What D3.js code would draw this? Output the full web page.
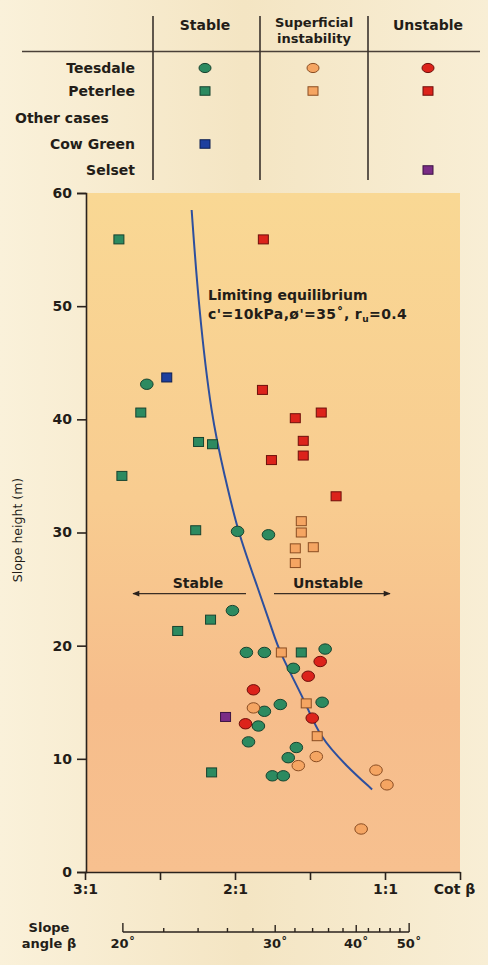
<!DOCTYPE html>
<html>
<head>
<meta charset="utf-8">
<script src="https://cdn.jsdelivr.net/npm/d3@7"></script>
<style>
  html, body { margin: 0; padding: 0; background: #f6eacd; }
  svg { display: block; font-family: "DejaVu Sans", "Liberation Sans", Arial, sans-serif; }
</style>
</head>
<body>
<svg id="chart" width="488" height="965"></svg>
<script>
// Observed slopes: [cot β, slope height (m)]
const teesdaleStable = [
  [2.588, 43.1], [1.983, 30.1], [1.777, 29.8], [2.017, 23.1], [1.924, 19.4],
  [1.804, 19.4], [1.399, 19.7], [1.611, 18.0], [1.698, 14.8], [1.419, 15.0],
  [1.804, 14.2], [1.844, 12.9], [1.910, 11.5], [1.591, 11.0], [1.645, 10.1],
  [1.751, 8.5], [1.678, 8.5]
];
const teesdaleSuperficial = [
  [1.877, 14.5], [1.458, 10.2], [1.578, 9.4], [1.060, 9.0], [0.987, 7.7], [1.159, 3.8]
];
const teesdaleUnstable = [
  [1.432, 18.6], [1.512, 17.3], [1.877, 16.1], [1.485, 13.6], [1.930, 13.1]
];
const peterleeStable = [
  [2.774, 55.9], [2.628, 40.6], [2.754, 35.0], [2.243, 38.0], [2.150, 37.8],
  [2.262, 30.2], [2.382, 21.3], [2.163, 22.3], [2.156, 8.8], [1.558, 19.4]
];
const peterleeSuperficial = [
  [1.691, 19.4], [1.525, 14.9], [1.452, 12.0], [1.558, 31.0], [1.558, 30.0],
  [1.598, 28.6], [1.478, 28.7], [1.598, 27.3]
];
const peterleeUnstable = [
  [1.811, 55.9], [1.817, 42.6], [1.598, 40.1], [1.425, 40.6], [1.545, 38.1],
  [1.545, 36.8], [1.757, 36.4], [1.326, 33.2]
];
const cowGreenStable = [[2.455, 43.7]];
const selsetUnstable = [[2.063, 13.7]];

// Limiting equilibrium line, c'=10kPa, ø'=35°, ru=0.4
const limitingCurve = [
  [2.289, 58.5], [2.243, 50.0], [2.156, 40.0], [2.068, 35.0], [1.983, 30.1],
  [1.845, 25.0], [1.751, 21.4], [1.704, 19.4], [1.525, 14.9], [1.440, 12.0],
  [1.253, 9.3], [1.086, 7.3]
];

const heightTicks = [0, 10, 20, 30, 40, 50, 60];
const cotTicks = [3, 2.5, 2, 1.5, 1, 0.5];
const cotTickLabels = ["3:1", "", "2:1", "", "1:1", "Cot β"];
const angleTicks = d3.range(20, 51, 2);
const angleLabels = [20, 30, 40, 50];

const statusColumns = ["Stable", "Superficial instability", "Unstable"];
const siteRows = ["Teesdale", "Peterlee", "Other cases", "Cow Green", "Selset"];

const colors = {
  stable: "#2c8a60", stableEdge: "#17432f",
  superficial: "#f5a562", superficialEdge: "#8a4d22",
  unstable: "#dc231b", unstableEdge: "#6e0f0b",
  cowGreen: "#1d3f9e", cowGreenEdge: "#0e1f50",
  selset: "#7a2c86", selsetEdge: "#3c1343",
  curve: "#2d4f9e", ink: "#231d18"
};
const FONT = "'DejaVu Sans', 'Liberation Sans', Arial, sans-serif";

const svg = d3.select("#chart");

// Paper background
const defs = svg.append("defs");
const plotGrad = defs.append("linearGradient")
  .attr("id", "plotFill").attr("x1", 0).attr("y1", 0).attr("x2", 0).attr("y2", 1);
plotGrad.append("stop").attr("offset", "0%").attr("stop-color", "#f9d894");
plotGrad.append("stop").attr("offset", "45%").attr("stop-color", "#f8cc90");
plotGrad.append("stop").attr("offset", "75%").attr("stop-color", "#f6bd8b");
plotGrad.append("stop").attr("offset", "100%").attr("stop-color", "#f7c08f");

const paperGrad = defs.append("linearGradient")
  .attr("id", "paperFill").attr("x1", 0).attr("y1", 0).attr("x2", 1).attr("y2", 0);
paperGrad.append("stop").attr("offset", "0%").attr("stop-color", "#faf1da");
paperGrad.append("stop").attr("offset", "50%").attr("stop-color", "#f4e5c3");
paperGrad.append("stop").attr("offset", "100%").attr("stop-color", "#f8eed5");

svg.append("rect").attr("width", 488).attr("height", 965).attr("fill", "url(#paperFill)");

// Scales
const x = d3.scaleLinear().domain([3, 0.5]).range([85, 460]);
const y = d3.scaleLinear().domain([0, 60]).range([872, 193]);
const angleX = a => x(1 / Math.tan(a * Math.PI / 180));

// Plot area
svg.append("rect")
  .attr("x", x(3) + 1).attr("y", y(60))
  .attr("width", x(0.5) - x(3) - 1).attr("height", y(0) - y(60))
  .attr("fill", "url(#plotFill)");

// ---- Legend table ----
const legend = svg.append("g").attr("fill", colors.ink).attr("font-weight", "bold").attr("font-size", 14);
const colX = [205, 313, 428];
const rowY = [68, 91, 118, 144, 170];

legend.append("text").attr("x", colX[0]).attr("y", 30).attr("text-anchor", "middle").text(statusColumns[0]);
legend.append("text").attr("x", colX[1] + 1).attr("y", 27).attr("font-size", 13)
  .attr("text-anchor", "middle").text("Superficial");
legend.append("text").attr("x", colX[1] + 1).attr("y", 42.5).attr("font-size", 13)
  .attr("text-anchor", "middle").text("instability");
legend.append("text").attr("x", colX[2]).attr("y", 30).attr("text-anchor", "middle").text(statusColumns[2]);

legend.append("line").attr("x1", 22).attr("x2", 480).attr("y1", 51.5).attr("y2", 51.5)
  .attr("stroke", "#4a4038").attr("stroke-width", 1.5);
[153, 260, 368].forEach(vx => {
  legend.append("line").attr("x1", vx).attr("x2", vx).attr("y1", 16).attr("y2", 180)
    .attr("stroke", "#3a322c").attr("stroke-width", 1.6);
});

siteRows.forEach((name, i) => {
  const t = legend.append("text").attr("y", rowY[i] + 5).text(name);
  if (name === "Other cases") t.attr("x", 15);
  else t.attr("x", 135).attr("text-anchor", "end");
});

function drawCircle(g, cx, cy, fill, edge, rx, ry) {
  g.append("ellipse").attr("cx", cx).attr("cy", cy).attr("rx", rx).attr("ry", ry)
    .attr("fill", fill).attr("stroke", edge).attr("stroke-width", 1);
}
function drawSquare(g, cx, cy, fill, edge, w, h) {
  g.append("rect").attr("x", cx - w / 2).attr("y", cy - h / 2).attr("width", w).attr("height", h)
    .attr("fill", fill).attr("stroke", edge).attr("stroke-width", 1);
}

const lg = svg.append("g");
drawCircle(lg, colX[0], rowY[0], colors.stable, colors.stableEdge, 6, 4.6);
drawCircle(lg, colX[1], rowY[0], colors.superficial, colors.superficialEdge, 6, 4.6);
drawCircle(lg, colX[2], rowY[0], colors.unstable, colors.unstableEdge, 6, 4.6);
drawSquare(lg, colX[0], rowY[1], colors.stable, colors.stableEdge, 10, 8.5);
drawSquare(lg, colX[1], rowY[1], colors.superficial, colors.superficialEdge, 10, 8.5);
drawSquare(lg, colX[2], rowY[1], colors.unstable, colors.unstableEdge, 10, 8.5);
drawSquare(lg, colX[0], rowY[3], colors.cowGreen, colors.cowGreenEdge, 10, 8.5);
drawSquare(lg, colX[2], rowY[4], colors.selset, colors.selsetEdge, 10, 8.5);

// ---- Axes ----
const yAxis = d3.axisLeft(y).tickValues(heightTicks).tickSize(9).tickPadding(5);
const gy = svg.append("g").attr("transform", `translate(${x(3) + 1},0)`).call(yAxis);
gy.select(".domain").attr("stroke", "#2a221c").attr("stroke-width", 1.6);
gy.selectAll(".tick line").attr("stroke", "#2a221c").attr("stroke-width", 1.6);
gy.selectAll(".tick text").attr("font-size", 14).attr("font-weight", "bold")
  .attr("fill", colors.ink).attr("font-family", FONT);

const xAxis = d3.axisBottom(x).tickValues(cotTicks).tickSize(8).tickPadding(4)
  .tickFormat((d, i) => cotTickLabels[i]).tickSizeOuter(0);
const gx = svg.append("g").attr("transform", `translate(0,${y(0)})`).call(xAxis);
gx.select(".domain").attr("stroke", "#2a221c").attr("stroke-width", 1.6);
gx.selectAll(".tick line").attr("stroke", "#2a221c").attr("stroke-width", 1.6);
gx.selectAll(".tick text").attr("font-size", 14).attr("font-weight", "bold")
  .attr("fill", colors.ink).attr("font-family", FONT);
gx.selectAll(".tick text").filter((d, i) => i === 5).attr("dx", -6);

svg.append("text")
  .attr("transform", `translate(22,530) rotate(-90)`)
  .attr("text-anchor", "middle").attr("font-size", 12.5).attr("fill", colors.ink)
  .text("Slope height (m)");

// Slope angle scale
const ga = svg.append("g").attr("stroke", "#2a221c").attr("stroke-width", 1.4);
const angleY = 932;
ga.append("line").attr("x1", angleX(20)).attr("x2", angleX(50)).attr("y1", angleY).attr("y2", angleY);
ga.selectAll("line.t").data(angleTicks).join("line").attr("class", "t")
  .attr("x1", d => angleX(d)).attr("x2", d => angleX(d))
  .attr("y1", angleY)
  .attr("y2", d => angleY - (d === 20 || d === 50 ? 9 : (d % 10 === 0 ? 7 : 4)));
svg.append("g").selectAll("text").data(angleLabels).join("text")
  .attr("x", d => angleX(d)).attr("y", 948).attr("text-anchor", "middle")
  .attr("font-size", 13).attr("font-weight", "bold").attr("fill", colors.ink)
  .text(d => d + "˚");
svg.append("text").attr("x", 49).attr("y", 932).attr("text-anchor", "middle")
  .attr("font-size", 13).attr("font-weight", "bold").attr("fill", colors.ink).text("Slope");
svg.append("text").attr("x", 49).attr("y", 948).attr("text-anchor", "middle")
  .attr("font-size", 13).attr("font-weight", "bold").attr("fill", colors.ink).text("angle β");

// ---- Limiting equilibrium curve ----
const line = d3.line().x(d => x(d[0])).y(d => y(d[1])).curve(d3.curveBasis);
svg.append("path").datum(limitingCurve).attr("d", line)
  .attr("fill", "none").attr("stroke", colors.curve).attr("stroke-width", 2);

const note = svg.append("g").attr("font-size", 14).attr("font-weight", "bold").attr("fill", colors.ink);
note.append("text").attr("x", 208).attr("y", 300).text("Limiting equilibrium");
const n2 = note.append("text").attr("x", 208).attr("y", 319).attr("font-size", 14).attr("letter-spacing", 0.4);
n2.append("tspan").text("c'=10kPa,ø'=35˚, r");
n2.append("tspan").attr("font-size", 9).attr("dy", 3).text("u");
n2.append("tspan").attr("dy", -3).text("=0.4");

// Stable / Unstable arrows
defs.append("marker").attr("id", "arrowHead").attr("viewBox", "0 0 10 10")
  .attr("refX", 9).attr("refY", 5).attr("markerWidth", 9).attr("markerHeight", 7)
  .attr("markerUnits", "userSpaceOnUse").attr("orient", "auto")
  .append("path").attr("d", "M0,1 L10,5 L0,9 Z").attr("fill", "#2a221c");

const arrowY = y(24.6);
svg.append("line").attr("x1", 246).attr("x2", 133).attr("y1", arrowY).attr("y2", arrowY)
  .attr("stroke", "#3a2e24").attr("stroke-width", 1.4).attr("marker-end", "url(#arrowHead)");
svg.append("line").attr("x1", 274).attr("x2", 390).attr("y1", arrowY).attr("y2", arrowY)
  .attr("stroke", "#3a2e24").attr("stroke-width", 1.4).attr("marker-end", "url(#arrowHead)");
svg.append("text").attr("x", 198).attr("y", arrowY - 6).attr("text-anchor", "middle")
  .attr("font-size", 14).attr("fill", colors.ink).attr("font-weight", "bold").text("Stable");
svg.append("text").attr("x", 328).attr("y", arrowY - 6).attr("text-anchor", "middle")
  .attr("font-size", 14).attr("fill", colors.ink).attr("font-weight", "bold").text("Unstable");

// ---- Observations ----
const pts = svg.append("g");
function circles(data, fill, edge) {
  pts.selectAll(null).data(data).join("ellipse")
    .attr("cx", d => x(d[0])).attr("cy", d => y(d[1]))
    .attr("rx", 6.3).attr("ry", 5.2)
    .attr("fill", fill).attr("stroke", edge).attr("stroke-width", 1);
}
function squares(data, fill, edge) {
  pts.selectAll(null).data(data).join("rect")
    .attr("x", d => x(d[0]) - 5).attr("y", d => y(d[1]) - 4.5)
    .attr("width", 10).attr("height", 9)
    .attr("fill", fill).attr("stroke", edge).attr("stroke-width", 1);
}
squares(peterleeStable, colors.stable, colors.stableEdge);
squares(peterleeSuperficial, colors.superficial, colors.superficialEdge);
squares(peterleeUnstable, colors.unstable, colors.unstableEdge);
squares(cowGreenStable, colors.cowGreen, colors.cowGreenEdge);
squares(selsetUnstable, colors.selset, colors.selsetEdge);
circles(teesdaleStable, colors.stable, colors.stableEdge);
circles(teesdaleSuperficial, colors.superficial, colors.superficialEdge);
circles(teesdaleUnstable, colors.unstable, colors.unstableEdge);
</script>
</body>
</html>
